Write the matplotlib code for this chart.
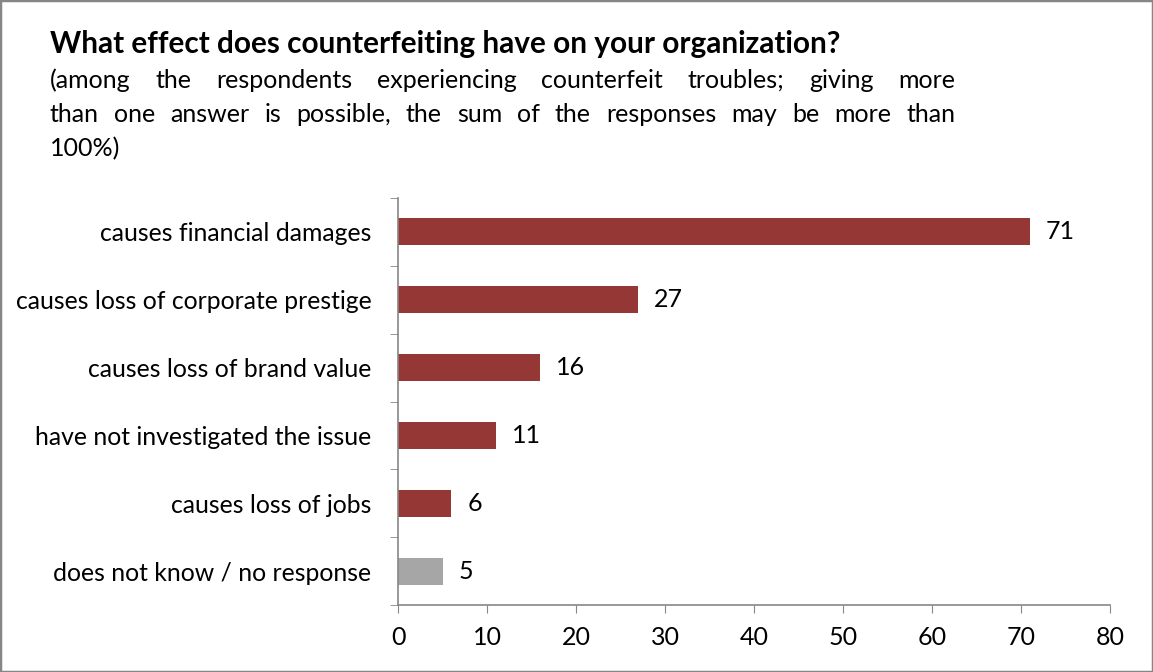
import matplotlib.pyplot as plt
from matplotlib.patches import Rectangle

categories = [
    "causes financial damages",
    "causes loss of corporate prestige",
    "causes loss of brand value",
    "have not investigated the issue",
    "causes loss of jobs",
    "does not know / no response",
]
values = [71, 27, 16, 11, 6, 5]
colors = ["#953735"] * 5 + ["#A6A6A6"]

title = "What effect does counterfeiting have on your organization?"
subtitle_lines = [
    "(among the respondents experiencing counterfeit troubles; giving more",
    "than one answer is possible, the sum of the responses may be more than",
    "100%)",
]

plt.rcParams["font.family"] = ["Lato", "DejaVu Sans"]
W, H = 1153, 672
FS = 18
fig = plt.figure(figsize=(W / 100, H / 100), dpi=100)
fig.patches.append(Rectangle((0, 0), 1, 1, transform=fig.transFigure, fill=False,
                             edgecolor="#868686", linewidth=2.5))

ax = fig.add_axes([398 / W, 1 - 605 / H, 712 / W, 407 / H])
n = len(categories)
y = [n - 1 - i for i in range(n)]
ax.barh(y, values, height=0.4, color=colors)
for yi, v in zip(y, values):
    ax.text(v + 1.8, yi, str(v), va="center", ha="left", fontsize=FS)

ax.set_xlim(0, 80)
ax.set_ylim(-0.5, n - 0.5)
ax.set_xticks(range(0, 81, 10))
ax.tick_params(axis="x", direction="out", length=6, color="#868686", labelsize=FS, pad=9)
ax.set_yticks(y)
ax.set_yticklabels(categories)
ax.tick_params(axis="y", length=0, labelsize=17.8, pad=19)
ax.set_yticks([i - 0.5 for i in range(n + 1)], minor=True)
ax.tick_params(axis="y", which="minor", direction="out", length=6, color="#868686")
for s in ("top", "right"):
    ax.spines[s].set_visible(False)
for s in ("left", "bottom"):
    ax.spines[s].set_color("#868686")
    ax.spines[s].set_linewidth(1.2)

fig.text(50 / W, 1 - 44 / H, title, fontsize=21.4, fontweight="bold", va="center", ha="left")

# justified subtitle
fig.canvas.draw()
renderer = fig.canvas.get_renderer()
x0, x1 = 50, 955
for k, line in enumerate(subtitle_lines):
    yy = 1 - (80 + 34.5 * k) / H
    words = line.split(" ")
    if k == len(subtitle_lines) - 1 or len(words) == 1:
        fig.text(x0 / W, yy, line, fontsize=FS, va="center", ha="left")
        continue
    widths = []
    for w in words:
        t = fig.text(0, 0, w, fontsize=FS)
        widths.append(t.get_window_extent(renderer).width)
        t.remove()
    gap = (x1 - x0 - sum(widths)) / (len(words) - 1)
    xp = x0
    for w, wd in zip(words, widths):
        fig.text(xp / W, yy, w, fontsize=FS, va="center", ha="left")
        xp += wd + gap

fig.savefig("out.png", dpi=100)
